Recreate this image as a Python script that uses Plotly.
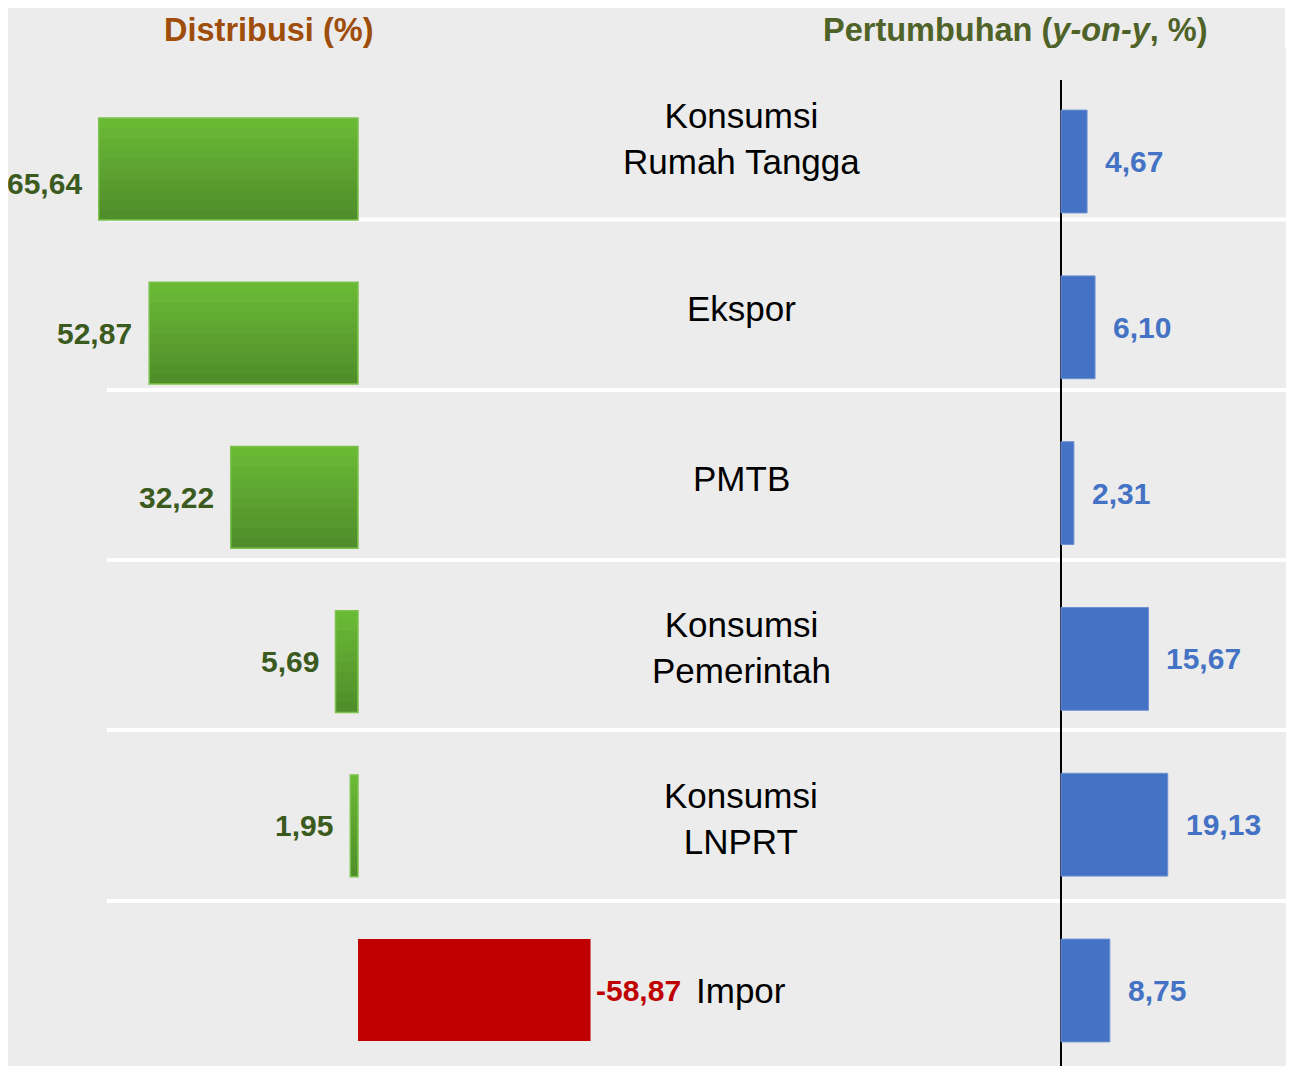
import plotly.graph_objects as go

# ---------------- data ----------------
categories = ["Konsumsi Rumah Tangga", "Ekspor", "PMTB",
              "Konsumsi Pemerintah", "Konsumsi LNPRT", "Impor"]
category_labels = ["Konsumsi<br>Rumah Tangga", "Ekspor", "PMTB",
                   "Konsumsi<br>Pemerintah", "Konsumsi<br>LNPRT", "Impor"]
distribusi = [65.64, 52.87, 32.22, 5.69, 1.95, -58.87]
pertumbuhan = [4.67, 6.10, 2.31, 15.67, 19.13, 8.75]

# ---------------- styling ----------------
W, H = 1286, 1058          # page body has an 8px margin
BG = "#ececec"
GREEN_TOP = (108, 187, 54)
GREEN_BOT = (78, 140, 42)
GREEN_EDGE = "#7cc24c"
RED = "#c00000"
BLUE = "#4472c4"
GREEN_TXT = "#3b5a1e"
CLEAR = "rgba(0,0,0,0)"
FONT = "Liberation Sans, Arial, sans-serif"
BAR_W = 0.62
N_SLICES = 10

label_yshift = [31, 25, 19, 14, 7, 0]      # category label offsets (px)
dist_label_yshift = [-14, 0, 0, 0, 0, 0]  # value label offsets (px)

# geometry (figure pixels)
L_ZERO, L_SCALE, L_DOM = 350, 3.95, 0.6
R_ZERO, R_SCALE = 1053, 5.58
L_C0, L_STEP = 161, 164.2
R_C0, R_STEP, R_TOP = 153.5, 165.8, 72

fig = go.Figure()

# negative (red) bars
fig.add_trace(go.Bar(
    y=categories, x=distribusi, orientation="h",
    marker=dict(color=[CLEAR if v >= 0 else RED for v in distribusi], line=dict(width=0)),
    width=BAR_W, xaxis="x", yaxis="y", hoverinfo="skip", showlegend=False,
))
# positive distribution bars drawn as vertical-gradient slices
sw = BAR_W / N_SLICES
for k in range(N_SLICES):
    t = (k + 0.5) / N_SLICES
    rgb = tuple(round(a + (b - a) * t) for a, b in zip(GREEN_TOP, GREEN_BOT))
    col = "rgb(%d,%d,%d)" % rgb
    extra = 0.02 if k < N_SLICES - 1 else 0.0
    fig.add_trace(go.Bar(
        y=categories, x=distribusi, orientation="h",
        marker=dict(color=[col if v >= 0 else CLEAR for v in distribusi], line=dict(width=0)),
        width=sw + extra, offset=-BAR_W / 2 + k * sw,
        xaxis="x", yaxis="y", hoverinfo="skip", showlegend=False,
    ))
# outline of green bars
fig.add_trace(go.Bar(
    y=categories, x=distribusi, orientation="h",
    marker=dict(color=CLEAR,
                line=dict(color=[GREEN_EDGE if v >= 0 else CLEAR for v in distribusi], width=1.5)),
    width=BAR_W, xaxis="x", yaxis="y", hoverinfo="skip", showlegend=False,
))
fig.add_trace(go.Bar(
    y=categories, x=pertumbuhan, orientation="h",
    marker=dict(color=BLUE, line=dict(color="#6e8fd0", width=1)),
    width=BAR_W, xaxis="x2", yaxis="y2", hoverinfo="skip", showlegend=False,
))

ann = []
for c, v, ys in zip(categories, distribusi, dist_label_yshift):
    pos = v >= 0
    ann.append(dict(
        x=v, y=c, xref="x", yref="y", text=f"{v:.2f}".replace(".", ","),
        showarrow=False, xanchor="right" if pos else "left",
        xshift=-15 if pos else 3, yshift=ys,
        font=dict(family=FONT, size=30, color=GREEN_TXT if pos else RED, weight="bold"),
    ))
for c, v in zip(categories, pertumbuhan):
    ann.append(dict(
        x=v, y=c, xref="x2", yref="y2", text=f"{v:.2f}".replace(".", ","),
        showarrow=False, xanchor="left", xshift=16,
        font=dict(family=FONT, size=30, color=BLUE, weight="bold"),
    ))
for c, lab, ys in zip(categories, category_labels, label_yshift):
    ann.append(dict(
        x=733 / W, y=c, xref="paper", yref="y", text=lab, showarrow=False,
        xanchor="center", yshift=ys,
        font=dict(family=FONT, size=35, color="#000000"),
    ))
ann.append(dict(x=260 / W, y=1 - 22 / H, xref="paper", yref="paper",
                text="<b>Distribusi (%)</b>", showarrow=False,
                xanchor="center", yanchor="middle",
                font=dict(family=FONT, size=32.5, color="#9e4d0a")))
ann.append(dict(x=1007 / W, y=1 - 22 / H, xref="paper", yref="paper",
                text="<b>Pertumbuhan (<i>y-on-y</i>, %)</b>", showarrow=False,
                xanchor="center", yanchor="middle",
                font=dict(family=FONT, size=32.5, color="#4f6228")))

shapes = []
for py in [211.5, 382, 552, 722, 893]:
    shapes.append(dict(type="line", xref="paper", yref="paper",
                       x0=99 / W, x1=1, y0=1 - py / H, y1=1 - py / H,
                       line=dict(color="white", width=4), layer="below"))
shapes.append(dict(type="rect", xref="paper", yref="paper", x0=1277 / W, x1=1,
                   y0=1 - 40 / H, y1=1, fillcolor="white", line=dict(width=0), layer="below"))

fig.update_layout(
    width=W, height=H, margin=dict(l=0, r=0, t=0, b=0),
    paper_bgcolor=BG, plot_bgcolor=CLEAR,
    barmode="overlay", annotations=ann, shapes=shapes,
    xaxis=dict(domain=[0, L_DOM], range=[L_ZERO / L_SCALE, (L_ZERO - L_DOM * W) / L_SCALE],
               visible=False, fixedrange=True),
    yaxis=dict(domain=[0, 1], type="category", categoryorder="array",
               categoryarray=categories,
               range=[(H - L_C0) / L_STEP, -L_C0 / L_STEP], visible=False),
    xaxis2=dict(domain=[L_DOM, 1], anchor="y2",
                range=[(L_DOM * W - R_ZERO) / R_SCALE, (W - R_ZERO) / R_SCALE],
                showgrid=False, showticklabels=False, showline=False,
                zeroline=True, zerolinecolor="black", zerolinewidth=2),
    yaxis2=dict(domain=[0, 1 - R_TOP / H], anchor="x2", type="category",
                categoryorder="array", categoryarray=categories,
                range=[(H - R_C0) / R_STEP, (R_TOP - R_C0) / R_STEP], visible=False),
)

fig.write_html("out.html")
